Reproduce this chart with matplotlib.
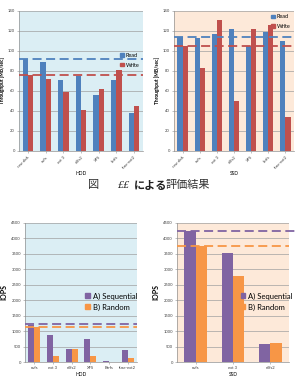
import matplotlib
matplotlib.use("Agg")
import matplotlib.pyplot as plt
import numpy as np
from matplotlib.patches import Patch

plt.rcParams['font.family'] = ['Lato', 'DejaVu Sans']

# ---- data ----
thr_cats = ["raw disk", "nvfs", "ext 3", "nilfs2", "XFS", "btrfs", "fuse-ext2"]
hdd_read = [92, 89, 71, 75, 56, 71, 38]
hdd_write = [76, 72, 59, 41, 62, 81, 45]
hdd_ref = [92, 76]
ssd_read = [114, 113, 117, 122, 105, 119, 110]
ssd_write = [105, 83, 131, 50, 122, 126, 34]
ssd_ref = [114, 105]

iops_hdd_cats = ["nvfs", "ext 3", "nilfs2", "XFS", "Btrfs", "fuse-ext2"]
iops_hdd_seq = [1200, 880, 410, 760, 30, 390]
iops_hdd_rnd = [1130, 180, 410, 180, 5, 140]
iops_hdd_ref = [1220, 1130]
iops_ssd_cats = ["nvfs", "ext 3", "nilfs2"]
iops_ssd_seq = [4250, 3530, 580]
iops_ssd_rnd = [3750, 2780, 630]
iops_ssd_ref = [4250, 3750]

BLUE = "#4f81bd"
RED = "#c0504d"
PURPLE = "#8064a2"
ORANGE = "#f79646"
BG_BLUE = "#dbeef4"
BG_PEACH = "#fde9d9"

W, H = 304, 390
fig = plt.figure(figsize=(W / 100, H / 100), dpi=100)


def ax_px(x0, y0, x1, y1):
    return fig.add_axes([x0 / W, 1 - y1 / H, (x1 - x0) / W, (y1 - y0) / H])


def style(ax, bg, ymax, step, tfs=3.0):
    ax.set_facecolor(bg)
    ax.set_ylim(0, ymax)
    ax.set_yticks(np.arange(0, ymax + 1, step))
    ax.grid(axis='y', color='#a0a0a0', lw=0.5)
    ax.set_axisbelow(True)
    for s in ['top', 'right']:
        ax.spines[s].set_visible(False)
    for s in ['left', 'bottom']:
        ax.spines[s].set_color('#909090')
        ax.spines[s].set_linewidth(0.5)
    ax.tick_params(axis='both', labelsize=tfs, length=1.5, width=0.4,
                   color='#909090', pad=1.5, labelcolor='#404040')


def bars(ax, cats, a, b, ca, cb, width):
    x = np.arange(len(cats))
    ax.bar(x - width / 2, a, width, color=ca, zorder=2)
    ax.bar(x + width / 2, b, width, color=cb, zorder=2)
    ax.set_xlim(-0.5, len(cats) - 0.5)
    ax.set_xticks(x)


# ---- top-left: HDD throughput ----
ax1 = ax_px(19, 11, 143, 151)
style(ax1, BG_BLUE, 140, 20)
bars(ax1, thr_cats, hdd_read, hdd_write, BLUE, RED, 0.3)
ax1.set_xticklabels(thr_cats, rotation=45, ha='right', rotation_mode='anchor')
ax1.axhline(hdd_ref[0], color=BLUE, lw=1.3, ls=(0, (5, 2.5)), zorder=3)
ax1.axhline(hdd_ref[1], color=RED, lw=1.3, ls=(0, (5, 2.5)), zorder=3)
ax1.set_ylabel("Throughput [MB/sec]", fontsize=3.5, fontweight='bold', labelpad=2)
ax1.set_xlabel("HDD", fontsize=3.5, labelpad=1)
ax1.legend(handles=[Patch(color=BLUE, label='Read'), Patch(color=RED, label='Write')],
           loc='center right', bbox_to_anchor=(1.0, 0.647), fontsize=4, frameon=False,
           handlelength=0.6, handleheight=0.6, handletextpad=0.4, labelspacing=0.8,
           borderaxespad=0.2)

# ---- top-right: SSD throughput ----
ax2 = ax_px(174, 11, 294, 151)
style(ax2, BG_PEACH, 140, 20)
bars(ax2, thr_cats, ssd_read, ssd_write, BLUE, RED, 0.3)
ax2.set_xticklabels(thr_cats, rotation=45, ha='right', rotation_mode='anchor')
ax2.axhline(ssd_ref[0], color=BLUE, lw=1.3, ls=(0, (5, 2.5)), zorder=3)
ax2.axhline(ssd_ref[1], color=RED, lw=1.3, ls=(0, (5, 2.5)), zorder=3)
ax2.set_ylabel("Throughput [MB/sec]", fontsize=3.5, fontweight='bold', labelpad=2)
ax2.set_xlabel("SSD", fontsize=3.5, labelpad=1)
ax2.legend(handles=[Patch(color=BLUE, label='Read'), Patch(color=RED, label='Write')],
           loc='upper right', fontsize=4, frameon=False,
           handlelength=0.6, handleheight=0.6, handletextpad=0.4, labelspacing=0.8,
           borderaxespad=0.2)

# ---- caption ----
cap_y = 1 - 185 / H
fig.text(88 / W, cap_y, "図", fontsize=8, family=['Noto Sans CJK JP'], va='center',
         color='#303030')
fig.text(117 / W, cap_y, "££", fontsize=7, family=['DejaVu Serif'], style='italic',
         va='center', color='#303030')
fig.text(134 / W, cap_y, "による", fontsize=8, family=['Noto Sans CJK JP'],
         fontweight='bold', va='center', color='#202020')
fig.text(166 / W, cap_y, "評価結果", fontsize=8, family=['Noto Sans CJK JP'],
         va='center', color='#303030')

# ---- bottom-left: HDD IOPS ----
ax3 = ax_px(25, 223, 137, 362)
style(ax3, BG_BLUE, 4500, 500)
bars(ax3, iops_hdd_cats, iops_hdd_seq, iops_hdd_rnd, PURPLE, ORANGE, 0.32)
ax3.set_xticklabels(iops_hdd_cats)
ax3.axhline(iops_hdd_ref[0], color=PURPLE, lw=1.3, ls=(0, (5, 2.5)), zorder=3)
ax3.axhline(iops_hdd_ref[1], color=ORANGE, lw=1.3, ls=(0, (5, 2.5)), zorder=3)
ax3.set_ylabel("IOPS", fontsize=5, fontweight='bold', labelpad=3)
ax3.set_xlabel("HDD", fontsize=3.5, labelpad=1.5)
ax3.legend(handles=[Patch(color=PURPLE, label='A) Sequential'),
                    Patch(color=ORANGE, label='B) Random')],
           loc='center right', bbox_to_anchor=(1.03, 0.435), fontsize=5.5, frameon=False,
           handlelength=0.6, handleheight=0.6, handletextpad=0.4, labelspacing=0.5,
           borderaxespad=0.0)

# ---- bottom-right: SSD IOPS ----
ax4 = ax_px(177, 223, 289, 362)
style(ax4, BG_PEACH, 4500, 500)
bars(ax4, iops_ssd_cats, iops_ssd_seq, iops_ssd_rnd, PURPLE, ORANGE, 0.3)
ax4.set_xticklabels(iops_ssd_cats)
ax4.axhline(iops_ssd_ref[0], color=PURPLE, lw=1.3, ls=(0, (5, 2.5)), zorder=3,
            xmax=1.07, clip_on=False)
ax4.axhline(iops_ssd_ref[1], color=ORANGE, lw=1.3, ls=(0, (5, 2.5)), zorder=3)
ax4.set_ylabel("IOPS", fontsize=5, fontweight='bold', labelpad=3)
ax4.set_xlabel("SSD", fontsize=3.5, labelpad=1.5)
ax4.legend(handles=[Patch(color=PURPLE, label='A) Sequential'),
                    Patch(color=ORANGE, label='B) Random')],
           loc='center right', bbox_to_anchor=(1.06, 0.435), fontsize=5.5, frameon=False,
           handlelength=0.6, handleheight=0.6, handletextpad=0.4, labelspacing=0.5,
           borderaxespad=0.0)

fig.savefig("out.png", dpi=100, facecolor='white')
